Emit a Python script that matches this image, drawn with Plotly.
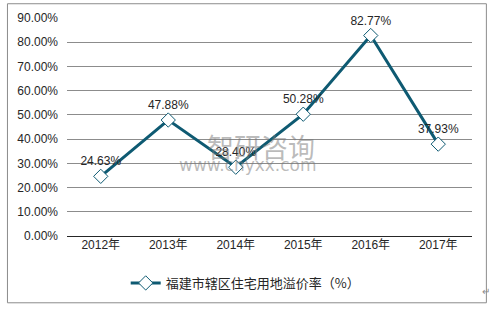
import plotly.graph_objects as go

years = ["2012年", "2013年", "2014年", "2015年", "2016年", "2017年"]
values = [24.63, 47.88, 28.40, 50.28, 82.77, 37.93]
labels = ["24.63%", "47.88%", "28.40%", "50.28%", "82.77%", "37.93%"]
series_name = "福建市辖区住宅用地溢价率（%）"
y_ticks = [0, 10, 20, 30, 40, 50, 60, 70, 80, 90]
y_tick_text = ["%.2f%%" % v for v in y_ticks]

line_color = "#0E5A72"
font_fam = "Liberation Sans, Arial, Noto Sans CJK SC, sans-serif"

fig = go.Figure()
fig.add_trace(go.Scatter(
    x=years, y=values, name=series_name,
    mode="lines+markers+text",
    text=labels, textposition="top center",
    textfont=dict(size=12, color="#262626", family=font_fam),
    line=dict(color=line_color, width=3),
    marker=dict(symbol="diamond", size=11, color="white",
                line=dict(color=line_color, width=1)),
    cliponaxis=False,
))

fig.update_layout(
    width=495, height=309,
    margin=dict(l=67, r=23, t=18, b=72),
    paper_bgcolor="white", plot_bgcolor="white",
    font=dict(family=font_fam, size=12, color="#262626"),
    showlegend=True,
    legend=dict(orientation="h", x=0.44, xanchor="center", y=-0.21, yanchor="middle",
                font=dict(size=13, color="#262626", family="Noto Sans CJK SC, sans-serif"),
                bgcolor="rgba(0,0,0,0)"),
    xaxis=dict(range=[-0.5, 5.5], showgrid=False, showline=False, zeroline=False, ticks="",
               tickfont=dict(size=12), fixedrange=True),
    yaxis=dict(range=[0, 90], tickvals=y_ticks, ticktext=y_tick_text,
               showgrid=True, gridcolor="#8C8C8C", gridwidth=1,
               zeroline=True, zerolinecolor="#262626", zerolinewidth=1,
               showline=False, ticks="", tickfont=dict(size=12),
               ticklabelstandoff=8),
    shapes=[dict(type="rect", xref="paper", yref="paper",
                 x0=-0.147, x1=1.0355, y0=-0.3064, y1=1.0654,
                 line=dict(color="#8C8C8C", width=1), fillcolor="rgba(0,0,0,0)",
                 layer="below")],
    annotations=[
        dict(text="智研咨询", xref="paper", yref="paper", x=0.48, y=0.41,
             xanchor="center", yanchor="middle",
             showarrow=False, font=dict(size=27, color="rgba(120,120,120,0.5)",
                                        family="Noto Sans CJK SC")),
        dict(text="www.chyxx.com", xref="paper", yref="paper", x=0.447, y=0.325,
             xanchor="center", yanchor="middle",
             showarrow=False, font=dict(size=17, color="rgba(120,120,120,0.5)",
                                        family="DejaVu Sans")),
        dict(text="↵", xref="paper", yref="paper", x=1.05, y=-0.29,
             showarrow=False, font=dict(size=10, color="#8C8C8C")),
    ],
)

fig.write_html("out.html")
